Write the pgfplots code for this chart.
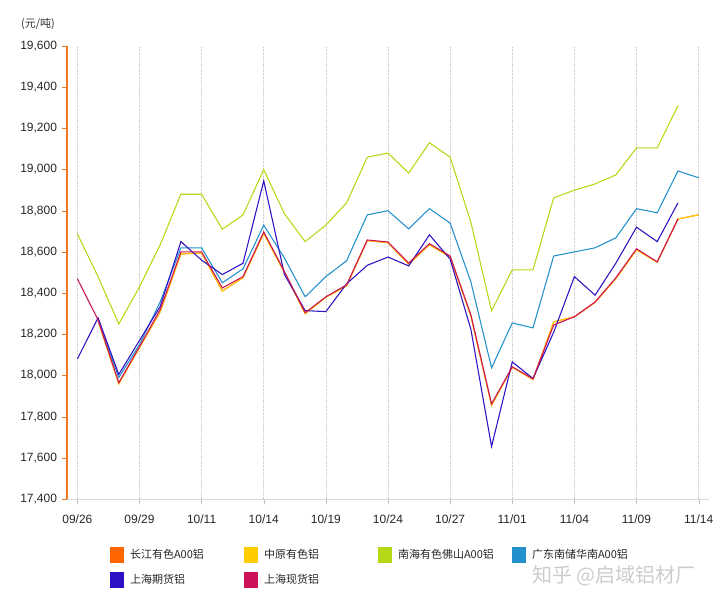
\documentclass[border=0pt]{standalone}
\usepackage{fontspec}
\setmainfont{Liberation Sans}
\newfontfamily\cjk{Noto Sans CJK SC}
\usepackage{pgfplots}
\pgfplotsset{compat=1.18}
\definecolor{cjOrange}{HTML}{FF6600}
\definecolor{zyGold}{HTML}{FFCC00}
\definecolor{nhGreen}{HTML}{B5D816}
\definecolor{gdBlue}{HTML}{2291CC}
\definecolor{shqBlue}{HTML}{2C12C4}
\definecolor{shxRed}{HTML}{CC1258}
\definecolor{axOrange}{HTML}{F07820}
\begin{document}
\begin{tikzpicture}
\path[use as bounding box] (-50.25pt,-78.75pt) rectangle (489.75pt,374.25pt);
\begin{axis}[
  at={(0pt,0pt)}, anchor=south west,
  scale only axis, width=481.5pt, height=339.75pt,
  xmin=-0.5, xmax=30.5, ymin=17400, ymax=19600,
  xtick={0,3,...,30},
  xticklabels={09/26,09/29,10/11,10/14,10/19,10/24,10/27,11/01,11/04,11/09,11/14},
  ytick={17400,17600,...,19600},
  axis x line*=bottom, axis y line*=left,
  x axis line style={draw=gray!30, -},
  y axis line style={draw=axOrange, line width=1.5pt, -},
  xmajorgrids, major x grid style={densely dotted, gray!45},
  tick align=outside, major tick length=4pt,
  xtick style={gray!50}, ytick style={axOrange},
  ticklabel style={font=\fontsize{9}{10}\selectfont, text=black!85},
  xticklabel style={yshift=-4pt},
  /pgf/number format/assume math mode=true,
  scaled y ticks=false,
  yticklabel style={/pgf/number format/fixed, /pgf/number format/1000 sep={,}},
  legend image code/.code={\fill[#1, draw=none] (0pt,-6pt) rectangle (10.5pt,6pt);},
  legend columns=4,
  legend style={at={(axis description cs:0.067,-0.105)}, anchor=north west,
    draw=none, fill=none, inner sep=0pt, outer sep=0pt,
    font=\cjk\fontsize{8.25}{10}\selectfont, text=black!85,
    row sep=7pt,
    /tikz/every odd column/.append style={column sep=4pt},
    nodes={inner sep=0.5pt}},
  every axis plot/.append style={line width=0.8pt, mark=none},
]
\addplot[color=cjOrange] coordinates {(1,18265)(2,17960)(3,18135)(4,18310)(5,18590)(6,18595)(7,18410)(8,18475)(9,18690)(10,18500)(11,18300)(12,18380)(13,18435)(14,18655)(15,18645)(16,18540)(17,18635)(18,18575)(19,18290)(20,17855)(21,18040)(22,17980)(23,18260)(24,18285)(25,18355)(26,18470)(27,18610)(28,18550)(29,18760)(30,18780)};
\addlegendentry{\makebox[85pt][l]{长江有色A00铝}}
\addplot[color=zyGold] coordinates {(1,18265)(2,17960)(3,18135)(4,18310)(5,18590)(6,18595)(7,18410)(8,18475)(9,18690)(10,18500)(11,18300)(12,18380)(13,18435)(14,18655)(15,18645)(16,18540)(17,18635)(18,18575)(19,18290)(20,17855)(21,18040)(22,17980)(23,18260)(24,18285)(25,18355)(26,18470)(27,18610)(28,18550)(29,18760)(30,18780)};
\addlegendentry{\makebox[85pt][l]{中原有色铝}}
\addplot[color=nhGreen] coordinates {(0,18688)(1,18480)(2,18250)(3,18430)(4,18635)(5,18880)(6,18880)(7,18710)(8,18780)(9,19000)(10,18785)(11,18650)(12,18730)(13,18838)(14,19060)(15,19080)(16,18983)(17,19130)(18,19060)(19,18745)(20,18314)(21,18513)(22,18513)(23,18862)(24,18900)(25,18930)(26,18974)(27,19105)(28,19105)(29,19310)};
\addlegendentry{\makebox[85pt][l]{南海有色佛山A00铝}}
\addplot[color=gdBlue] coordinates {(1,18270)(2,17990)(3,18150)(4,18357)(5,18620)(6,18620)(7,18450)(8,18518)(9,18730)(10,18570)(11,18382)(12,18480)(13,18557)(14,18780)(15,18800)(16,18712)(17,18810)(18,18740)(19,18455)(20,18037)(21,18255)(22,18231)(23,18580)(24,18600)(25,18620)(26,18668)(27,18810)(28,18790)(29,18993)(30,18960)};
\addlegendentry{\makebox[85pt][l]{广东南储华南A00铝}}
\addplot[color=shqBlue] coordinates {(0,18080)(1,18280)(2,18005)(3,18170)(4,18335)(5,18650)(6,18560)(7,18490)(8,18545)(9,18945)(10,18490)(11,18315)(12,18310)(13,18445)(14,18535)(15,18575)(16,18532)(17,18683)(18,18565)(19,18225)(20,17655)(21,18066)(22,17985)(23,18210)(24,18480)(25,18390)(26,18545)(27,18720)(28,18650)(29,18838)};
\addlegendentry{\makebox[85pt][l]{上海期货铝}}
\addplot[color=shxRed] coordinates {(0,18470)(1,18270)(2,17965)(3,18140)(4,18320)(5,18600)(6,18600)(7,18425)(8,18480)(9,18697)(10,18505)(11,18305)(12,18382)(13,18440)(14,18658)(15,18648)(16,18546)(17,18640)(18,18580)(19,18295)(20,17862)(21,18042)(22,17984)(23,18245)(24,18285)(25,18357)(26,18474)(27,18615)(28,18552)(29,18760)};
\addlegendentry{\makebox[85pt][l]{上海现货铝}}
\end{axis}
\node[font=\cjk\fontsize{8.25}{10}\selectfont, text=black!80] at (-21.75pt,356.25pt) {(元/吨)};
\node[font=\cjk\fontsize{15}{16}\selectfont, text=gray!40] at (410.25pt,-57.75pt) {知乎 @启域铝材厂};
\end{tikzpicture}
\end{document}
